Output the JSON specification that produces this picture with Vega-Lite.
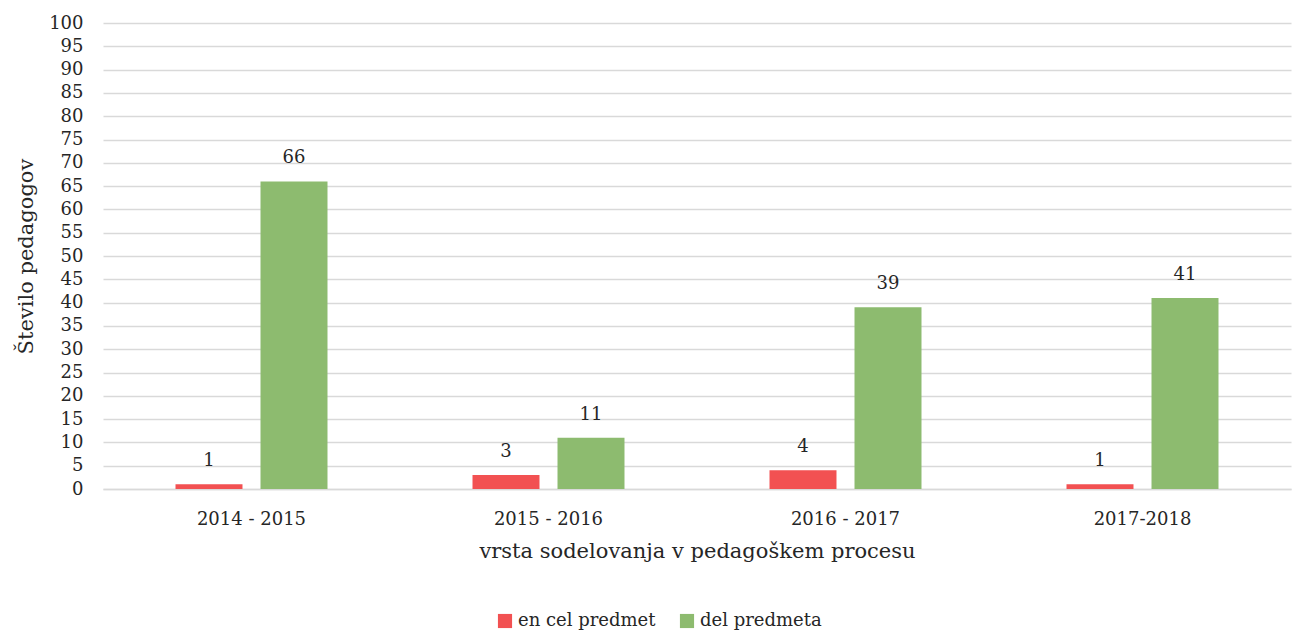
{
  "$schema": "https://vega.github.io/schema/vega-lite/v6.json",
  "autosize": "none",
  "width": 1188,
  "height": 466,
  "padding": {"left": 103, "top": 23, "right": 2, "bottom": 146},
  "background": "white",
  "config": {
    "font": "DejaVu Serif",
    "view": {"stroke": null}
  },
  "data": {
    "values": [
      {"leto": "2014 - 2015", "vrsta": "en cel predmet", "n": 1},
      {"leto": "2014 - 2015", "vrsta": "del predmeta", "n": 66},
      {"leto": "2015 - 2016", "vrsta": "en cel predmet", "n": 3},
      {"leto": "2015 - 2016", "vrsta": "del predmeta", "n": 11},
      {"leto": "2016 - 2017", "vrsta": "en cel predmet", "n": 4},
      {"leto": "2016 - 2017", "vrsta": "del predmeta", "n": 39},
      {"leto": "2017-2018", "vrsta": "en cel predmet", "n": 1},
      {"leto": "2017-2018", "vrsta": "del predmeta", "n": 41}
    ]
  },
  "encoding": {
    "x": {
      "field": "leto", "type": "nominal", "sort": null,
      "scale": {"paddingInner": 0, "paddingOuter": 0},
      "axis": {
        "title": "vrsta sodelovanja v pedagoškem procesu",
        "titleFont": "DejaVu Serif", "titleFontSize": 21, "titleFontWeight": "normal", "titleColor": "#262626",
        "titlePadding": 12,
        "labelFont": "DejaVu Serif",
        "labelAngle": 0, "labelFontSize": 18, "labelColor": "#262626", "labelPadding": 21,
        "ticks": false, "domainColor": "#d9d9d9", "domainWidth": 1.5, "grid": false
      }
    },
    "xOffset": {
      "field": "vrsta", "type": "nominal", "sort": ["en cel predmet", "del predmeta"],
      "scale": {"paddingInner": 0.212, "paddingOuter": 0.853}
    },
    "y": {
      "field": "n", "type": "quantitative",
      "scale": {"domain": [0, 100], "nice": false},
      "axis": {
        "title": "Število pedagogov",
        "titleFont": "DejaVu Serif", "titleFontSize": 21, "titleFontWeight": "normal", "titleColor": "#262626",
        "titlePadding": 12,
        "labelFont": "DejaVu Serif",
        "values": [0,5,10,15,20,25,30,35,40,45,50,55,60,65,70,75,80,85,90,95,100],
        "labelFontSize": 18, "labelColor": "#262626", "labelPadding": 20,
        "ticks": false, "domain": false,
        "grid": true, "gridColor": "#d9d9d9", "gridWidth": 1.5
      }
    }
  },
  "layer": [
    {
      "mark": {"type": "bar"},
      "encoding": {
        "color": {
          "field": "vrsta", "type": "nominal",
          "sort": ["en cel predmet", "del predmeta"],
          "scale": {"domain": ["en cel predmet", "del predmeta"], "range": ["#f25152", "#8dbb6f"]},
          "legend": {
            "title": null, "orient": "none", "legendX": 393, "legendY": 589, "direction": "horizontal",
            "symbolType": "square", "symbolSize": 200, "symbolStrokeWidth": 0,
            "labelFontSize": 18, "labelColor": "#262626", "labelFont": "DejaVu Serif",
            "columnPadding": 22, "labelOffset": 4
          }
        }
      }
    },
    {
      "mark": {"type": "text", "baseline": "bottom", "dy": -14, "fontSize": 18, "color": "#262626", "font": "DejaVu Serif"},
      "encoding": {"text": {"field": "n", "type": "quantitative"}}
    }
  ]
}
